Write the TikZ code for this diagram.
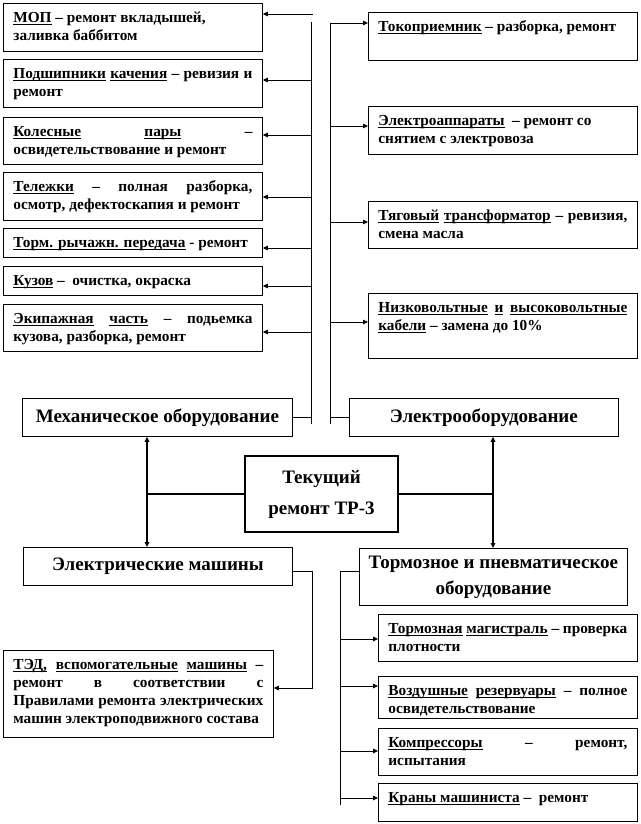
\documentclass[tikz,border=0pt]{standalone}
\usepackage{fontspec}
\setmainfont{Liberation Serif}
\usetikzlibrary{arrows.meta}
\newcommand\ul[1]{\setbox0\hbox{#1}\rlap{\rule[-2.2pt]{\wd0}{0.8pt}}\box0\relax}
\newcommand\tfont{\fontsize{15.3}{18}\selectfont\bfseries\hyphenpenalty=10000 \exhyphenpenalty=10000 \tolerance=10000 }
\newcommand\tbx[6]{%
  \pgfmathsetmacro\tbw{#4-#2}\pgfmathsetmacro\tbh{#5-#3}%
  \node[tbox] (#1) at (#2,#3)
   {\parbox[t][\tbh pt][t]{\dimexpr\tbw pt-20pt\relax}{\rule{0pt}{19pt}#6}};}
\begin{document}
\begin{tikzpicture}[x=1pt,y=-1pt,
  tbox/.style={draw, line width=0.8pt, anchor=north west, inner xsep=10pt, inner ysep=0pt, font=\tfont},
  hbox/.style={draw, line width=0.8pt, anchor=north west, inner sep=0pt, align=center, font={\fontsize{19}{22}\selectfont\bfseries}},
  ln/.style={line width=0.8pt},
  thk/.style={line width=1.6pt},
  arr/.style={-{Triangle[length=5pt,width=4.5pt]}}]
\useasboundingbox (0,0) rectangle (640,824);
% left column
\tbx{L1}{3}{3}{262}{51}{\ul{МОП} – ремонт вкладышей,\\ заливка баббитом}
\tbx{L2}{3}{59}{262}{107}{\ul{Подшипники} \ul{качения} – ревизия и ремонт}
\tbx{L3}{3}{117}{262}{164}{\ul{Колесные} \ul{пары} – освидетельствование и ремонт}
\tbx{L4}{3}{172}{262}{220}{\ul{Тележки} – полная разборка, осмотр, дефектоскапия и ремонт}
\tbx{L5}{3}{228}{262}{257}{\ul{Торм. рычажн. передача} - ремонт}
\tbx{L6}{3}{266}{262}{295}{\ul{Кузов} – \ очистка, окраска}
\tbx{L7}{3}{304}{262}{351}{\ul{Экипажная} \ul{часть} – подьемка кузова, разборка, ремонт}
% right column
\tbx{R1}{368}{12}{637}{60}{\ul{Токоприемник} – разборка, ремонт}
\tbx{R2}{368}{106}{637}{154}{\ul{Электроаппараты} \ – ремонт со\\ снятием с электровоза}
\tbx{R3}{368}{201}{637}{248}{\ul{Тяговый} \ul{трансформатор} – ревизия, смена масла}
\tbx{R4}{368}{293}{637}{358}{\ul{Низковольтные} \ul{и} \ul{высоковольтные} \ul{кабели} – замена до 10\%}
% headings
\node[hbox, minimum width=270pt, minimum height=38pt] (mech) at (22,398) {Механическое оборудование};
\node[hbox, minimum width=269pt, minimum height=38pt] (elec) at (349,398) {Электрооборудование};
\node[hbox, line width=2pt, minimum width=153pt, minimum height=76pt, font={\fontsize{19}{31}\selectfont\bfseries}] (tr) at (244,455) {Текущий\\ремонт ТР-3};
\node[hbox, minimum width=269pt, minimum height=38pt] (em) at (23,547) {Электрические машины};
\node[hbox, minimum width=268pt, minimum height=57pt, font={\fontsize{19}{26}\selectfont\bfseries}] (brk) at (359,548) {Тормозное и пневматическое\\оборудование};
% bottom boxes
\tbx{TED}{3}{650}{273}{737}{\ul{ТЭД,} \ul{вспомогательные} \ul{машины} –\linebreak ремонт в соответствии с\linebreak Правилами ремонта электрических\linebreak машин электроподвижного состава}
\tbx{B1}{378}{614}{637}{661}{\ul{Тормозная} \ul{магистраль} – проверка плотности}
\tbx{B2}{378}{676}{637}{718}{\ul{Воздушные} \ul{резервуары} – полное освидетельствование}
\tbx{B3}{378}{728}{637}{775}{\ul{Компрессоры} – ремонт,\linebreak испытания}
\tbx{B4}{378}{783}{637}{821}{\ul{Краны машиниста} – \ ремонт}
% buses
\coordinate (bL) at (311,0);
\coordinate (bR) at (330,0);
\coordinate (vL) at (147,0);
\coordinate (vR) at (493,0);
\coordinate (bE) at (312,0);
\coordinate (bB) at (340,0);
\draw[ln] (bL |- 0,22) -- (bL |- 0,424);
\draw[ln,arr] (313,14) -- (L1.east |- 0,14);
\draw[ln,arr] (bL |- 0,80) -- (L2.east |- 0,80);
\draw[ln,arr] (bL |- 0,135) -- (L3.east |- 0,135);
\draw[ln,arr] (bL |- 0,197) -- (L4.east |- 0,197);
\draw[ln,arr] (bL |- 0,248) -- (L5.east |- 0,248);
\draw[ln,arr] (bL |- 0,286) -- (L6.east |- 0,286);
\draw[ln,arr] (bL |- 0,332) -- (L7.east |- 0,332);
\draw[ln] (mech.east) -- (bL |- mech.east);
\draw[ln] (bR |- 0,23) -- (bR |- 0,424);
\draw[ln,arr] (bR |- 0,23) -- (R1.west |- 0,23);
\draw[ln,arr] (bR |- 0,126) -- (R2.west |- 0,126);
\draw[ln,arr] (bR |- 0,222) -- (R3.west |- 0,222);
\draw[ln,arr] (bR |- 0,322) -- (R4.west |- 0,322);
\draw[ln] (elec.west) -- (bR |- elec.west);
% center
\draw[thk] (tr.west) -- (vL |- tr.west);
\draw[thk] (tr.east) -- (vR |- tr.east);
\draw[thk,arr] (vL |- tr.west) -- (vL |- mech.south);
\draw[thk,arr] (vL |- tr.west) -- (vL |- em.north);
\draw[thk,arr] (vR |- tr.east) -- (vR |- elec.south);
\draw[thk,arr] (vR |- tr.east) -- (vR |- brk.north);
% bottom left
\draw[ln,arr] (em.east |- 0,571) -| (bE |- 0,688) -- (TED.east |- 0,688);
% bottom right
\draw[ln] (brk.west |- 0,571) -- (bB |- 0,571) -- (bB |- 0,805);
\draw[ln,arr] (bB |- 0,639) -- (B1.west |- 0,639);
\draw[ln,arr] (bB |- 0,686) -- (B2.west |- 0,686);
\draw[ln,arr] (bB |- 0,751) -- (B3.west |- 0,751);
\draw[ln,arr] (bB |- 0,798) -- (B4.west |- 0,798);
\end{tikzpicture}
\end{document}
